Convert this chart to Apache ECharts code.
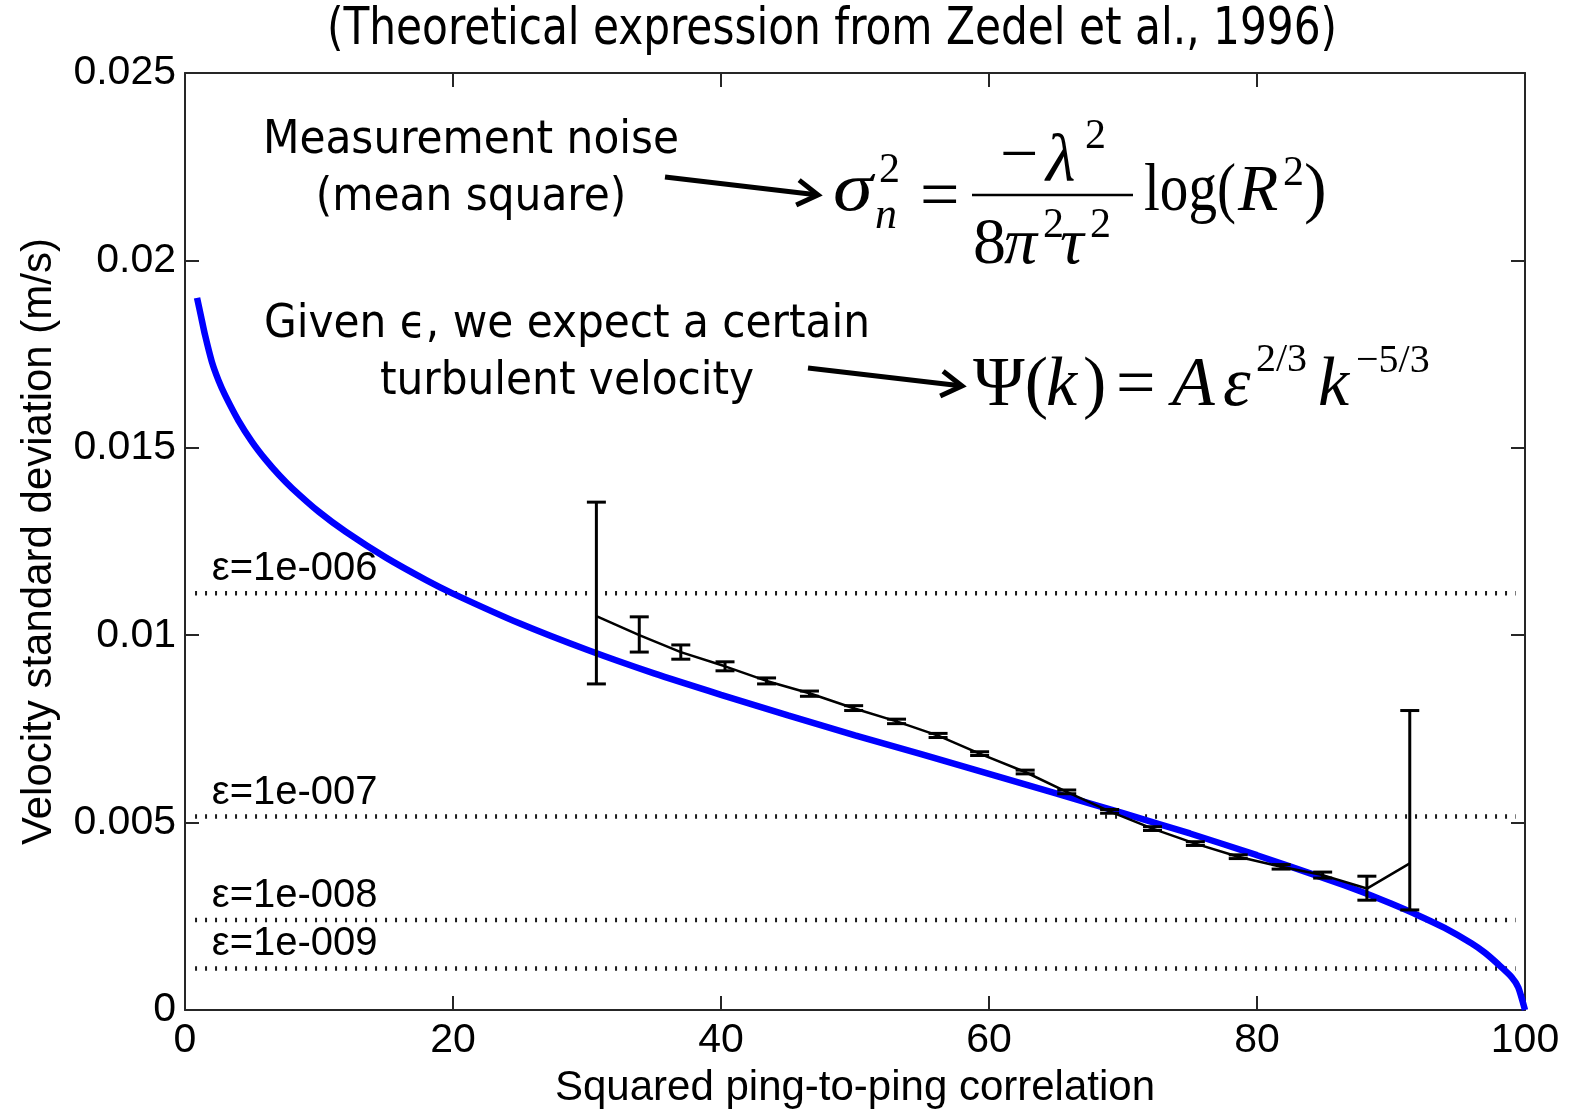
<!DOCTYPE html>
<html><head><meta charset="utf-8">
<script src="https://cdn.jsdelivr.net/npm/echarts@6/dist/echarts.min.js"></script>
<style>html,body{margin:0;padding:0;background:#fff}#c{width:1569px;height:1114px}</style>
</head><body><div id="c"></div>
<script>
// ---------- data ----------
const xTickInterval = 20;
const yTickInterval = 0.005;

// theoretical curve (blue)
const theoryX = [0.9, 1.2, 1.5, 2, 2.5, 3, 4, 5, 6, 7, 8, 10, 12, 15, 18, 20, 25, 30, 35, 40, 45, 50, 55, 60, 65, 70, 75, 80, 85, 88, 90, 92, 94, 96, 97, 98, 99, 99.5, 100];
const theoryY = [0.0190, 0.0185, 0.0180, 0.0173, 0.0168, 0.0164, 0.01572, 0.01516, 0.01469, 0.01428, 0.01392, 0.01329, 0.01276, 0.01207, 0.01147, 0.01111, 0.01031, 0.00961, 0.00898, 0.00841, 0.00786, 0.00733, 0.00682, 0.00630, 0.00578, 0.00525, 0.00471, 0.00413, 0.00352, 0.00313, 0.00284, 0.00253, 0.00219, 0.00178, 0.00153, 0.00122, 0.00088, 0.00060, 0];

// measured mean values with error bars (black)
const measX    = [30.7, 33.9, 37.0, 40.3, 43.4, 46.6, 49.9, 53.1, 56.2, 59.3, 62.7, 65.8, 69.0, 72.2, 75.4, 78.6, 81.8, 84.9, 88.2, 91.4];
const measY    = [0.01051, 0.01000, 0.00955, 0.00917, 0.00878, 0.00845, 0.00805, 0.00770, 0.00732, 0.00684, 0.00635, 0.00582, 0.00530, 0.00484, 0.00444, 0.00409, 0.00382, 0.00360, 0.00324, 0.00391];
const measLow  = [0.00870, 0.00955, 0.00936, 0.00905, 0.00870, 0.00837, 0.00799, 0.00764, 0.00727, 0.00679, 0.00630, 0.00577, 0.00525, 0.00479, 0.00439, 0.00404, 0.00376, 0.00352, 0.00293, 0.00267];
const measHigh = [0.01355, 0.01049, 0.00974, 0.00929, 0.00886, 0.00851, 0.00812, 0.00776, 0.00738, 0.00689, 0.00640, 0.00587, 0.00535, 0.00489, 0.00449, 0.00414, 0.00388, 0.00368, 0.00357, 0.00799];

// dissipation-rate reference levels
const epsNames  = ['ε=1e-006', 'ε=1e-007', 'ε=1e-008', 'ε=1e-009'];
const epsValues = [0.01112, 0.00516, 0.00240, 0.00111];

// ---------- chart ----------
const chart = echarts.init(document.getElementById('c'), null, {renderer: 'canvas'});
const AX = '#262626';
const SANS = '"Liberation Sans", Arial, sans-serif';
const TAH = '"DejaVu Sans Condensed", "DejaVu Sans", sans-serif';
const SERIF = '"Liberation Serif", "Times New Roman", serif';

function txt(text, x, y, fs, family, o) {
  o = o || {};
  const el = {type: 'text', x: x, y: y, silent: true, z: 100,
    style: {text: text, fontSize: fs, fontFamily: family, fontStyle: o.italic ? 'italic' : 'normal',
      fill: '#000', align: o.align || 'left', verticalAlign: 'middle',
      textAlign: o.align || 'left', textVerticalAlign: 'middle'}};
  if (o.sx) el.scaleX = o.sx;
  if (o.sy) el.scaleY = o.sy;
  return el;
}
function arrow(x1, y1, x2, y2) {
  const a = Math.atan2(y2 - y1, x2 - x1), L = 24, h = 0.55;
  return [
    {type: 'line', silent: true, z: 100, shape: {x1: x1, y1: y1, x2: x2 - 4 * Math.cos(a), y2: y2 - 4 * Math.sin(a)}, style: {stroke: '#000', lineWidth: 5}},
    {type: 'polyline', silent: true, z: 100, shape: {points: [[x2 - L * Math.cos(a - h), y2 - L * Math.sin(a - h)], [x2, y2], [x2 - L * Math.cos(a + h), y2 - L * Math.sin(a + h)]]},
      style: {stroke: '#000', lineWidth: 5, fill: null, lineJoin: 'miter'}}
  ];
}

const graphics = [
  txt('(Theoretical expression from Zedel et al., 1996)', 832, 31, 47, TAH, {align: 'center', sy: 1.08}),
  txt('Measurement noise', 471, 141, 47, TAH, {align: 'center'}),
  txt('(mean square)', 471, 198, 47, TAH, {align: 'center'}),
  txt('Given ϵ, we expect a certain', 567, 325, 47, TAH, {align: 'center'}),
  txt('turbulent velocity', 567, 382, 47, TAH, {align: 'center'}),
  ...arrow(665, 177, 818, 195),
  ...arrow(808, 368, 962, 386),
  // sigma_n^2 = -lambda^2 / (8 pi^2 tau^2) log(R^2)
  txt('σ', 833, 192, 70, SERIF, {italic: true, sx: 1.15}),
  txt('2', 879, 171, 42, SERIF),
  txt('n', 875, 216, 44, SERIF, {italic: true}),
  txt('=', 920, 200, 70, SERIF),
  txt('−', 1000, 158, 68, SERIF),
  txt('λ', 1046, 163, 68, SERIF, {italic: true}),
  txt('2', 1085, 137, 42, SERIF),
  {type: 'line', silent: true, z: 100, shape: {x1: 972, y1: 195, x2: 1133, y2: 195}, style: {stroke: '#000', lineWidth: 2.5}},
  txt('8', 973, 246, 66, SERIF),
  txt('π', 1004, 246, 66, SERIF, {italic: true}),
  txt('2', 1043, 226, 42, SERIF),
  txt('τ', 1060, 246, 66, SERIF, {italic: true}),
  txt('2', 1090, 226, 42, SERIF),
  txt('log(', 1144, 192, 68, SERIF, {sx: 0.84}),
  txt('R', 1238, 193, 66, SERIF, {italic: true}),
  txt('2', 1283, 174, 42, SERIF),
  txt(')', 1304, 192, 68, SERIF),
  // Psi(k) = A eps^{2/3} k^{-5/3}
  txt('Ψ(', 973, 387, 70, SERIF),
  txt('k', 1046, 387, 70, SERIF, {italic: true}),
  txt(')', 1083, 387, 70, SERIF),
  txt('=', 1116, 388, 70, SERIF),
  txt('A', 1172, 387, 70, SERIF, {italic: true}),
  txt('ε', 1223, 387, 70, SERIF, {italic: true}),
  txt('2/3', 1256, 360, 40, SERIF),
  txt('k', 1318, 387, 70, SERIF, {italic: true}),
  txt('−5/3', 1356, 361, 40, SERIF)
];

const epsSeries = epsValues.map((v, i) => ({
  name: epsNames[i], type: 'line', silent: true, symbol: 'none', z: 2,
  data: [[0.75, v], [99.3, v]],
  lineStyle: {color: '#1a1a1a', width: 4.5, type: [2, 8], cap: 'butt'}
}));

const option = {
  backgroundColor: '#fff',
  animation: false,
  grid: {left: 185, right: 44, top: 73, bottom: 102},
  xAxis: [
    {type: 'value', min: 0, max: 100, interval: xTickInterval, position: 'bottom',
      name: 'Squared ping-to-ping correlation', nameLocation: 'middle', nameGap: 57,
      nameTextStyle: {fontSize: 42, fontFamily: SANS, color: '#000'},
      axisLine: {show: true, onZero: false, lineStyle: {color: AX, width: 2}},
      axisTick: {show: true, inside: true, length: 14, lineStyle: {color: AX, width: 2}},
      axisLabel: {fontSize: 41, fontFamily: SANS, color: '#000', margin: 10},
      splitLine: {show: false}},
    {type: 'value', min: 0, max: 100, interval: xTickInterval, position: 'top',
      axisLine: {show: true, onZero: false, lineStyle: {color: AX, width: 2}},
      axisTick: {show: true, inside: true, length: 14, lineStyle: {color: AX, width: 2}},
      axisLabel: {show: false}, splitLine: {show: false}}
  ],
  yAxis: [
    {type: 'value', min: 0, max: 0.025, interval: yTickInterval, position: 'left',
      name: 'Velocity standard deviation (m/s)', nameLocation: 'middle', nameGap: 125, nameRotate: 90,
      nameTextStyle: {fontSize: 42, fontFamily: SANS, color: '#000'},
      axisLine: {show: true, onZero: false, lineStyle: {color: AX, width: 2}},
      axisTick: {show: true, inside: true, length: 14, lineStyle: {color: AX, width: 2}},
      axisLabel: {fontSize: 41, fontFamily: SANS, color: '#000', margin: 9},
      splitLine: {show: false}},
    {type: 'value', min: 0, max: 0.025, interval: yTickInterval, position: 'right',
      axisLine: {show: true, onZero: false, lineStyle: {color: AX, width: 2}},
      axisTick: {show: true, inside: true, length: 14, lineStyle: {color: AX, width: 2}},
      axisLabel: {show: false}, splitLine: {show: false}}
  ],
  series: [
    ...epsSeries,
    {name: 'labels', type: 'scatter', silent: true, symbolSize: 0, z: 3,
      itemStyle: {opacity: 1},
      data: epsValues.map((v, i) => [2.0, v, epsNames[i]]),
      label: {show: true, position: [0, -4], align: 'left', verticalAlign: 'bottom', opacity: 1,
        formatter: p => p.data[2], fontSize: 40, fontFamily: SANS, color: '#000'}},
    {name: 'theory', type: 'line', silent: true, symbol: 'none', z: 4, smooth: 0.2,
      data: theoryX.map((x, i) => [x, theoryY[i]]),
      lineStyle: {color: '#0000ff', width: 6.5}},
    {name: 'measured', type: 'line', silent: true, symbol: 'none', z: 5,
      data: measX.map((x, i) => [x, measY[i]]),
      lineStyle: {color: '#000', width: 2.5}},
    {name: 'errorbars', type: 'custom', silent: true, z: 6,
      data: measX.map((x, i) => [x, measLow[i], measHigh[i]]),
      encode: {x: 0, y: [1, 2]},
      renderItem: function (params, api) {
        const x = api.value(0);
        const pLo = api.coord([x, api.value(1)]);
        const pHi = api.coord([x, api.value(2)]);
        const w = 9.5;
        const st = {stroke: '#000', lineWidth: 3};
        return {type: 'group', children: [
          {type: 'line', shape: {x1: pLo[0], y1: pLo[1], x2: pHi[0], y2: pHi[1]}, style: st},
          {type: 'line', shape: {x1: pLo[0] - w, y1: pLo[1], x2: pLo[0] + w, y2: pLo[1]}, style: st},
          {type: 'line', shape: {x1: pHi[0] - w, y1: pHi[1], x2: pHi[0] + w, y2: pHi[1]}, style: st}
        ]};
      }}
  ],
  graphic: graphics
};
chart.setOption(option);
</script>
</body></html>
